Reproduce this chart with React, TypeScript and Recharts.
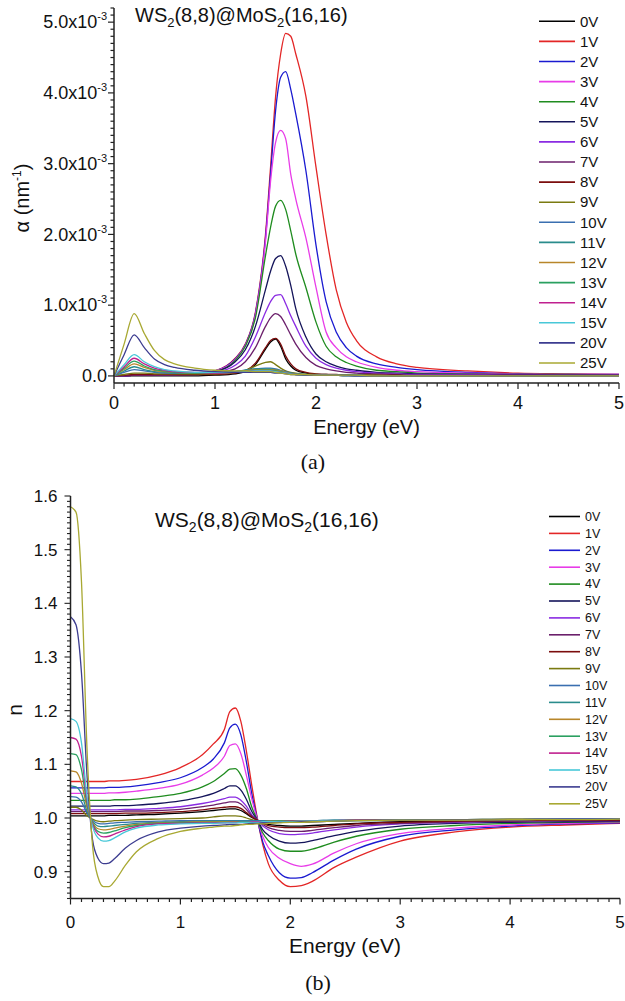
import React from "react";
import { LineChart, Line, XAxis, YAxis } from "recharts";

const voltages = ["0V", "1V", "2V", "3V", "4V", "5V", "6V", "7V", "8V", "9V", "10V", "11V", "12V", "13V", "14V", "15V", "20V", "25V"];
const colors = ["#000000", "#e32626", "#1a1ad0", "#e83ce8", "#1f8c1f", "#14145a", "#8a2be2", "#6b1f6b", "#7b0d0d", "#7a7a10", "#3a6fb0", "#2a8c8c", "#b8862a", "#2aa060", "#c0208f", "#48c8d8", "#3c3c90", "#a8a832"];

// (a) absorption, in units of 1e-3 nm^-1
const energyA = [0, 0.1, 0.2, 0.3, 0.4, 0.5, 0.6, 0.8, 1.0, 1.2, 1.3, 1.4, 1.5, 1.55, 1.6, 1.65, 1.7, 1.75, 1.8, 1.9, 2.0, 2.1, 2.2, 2.3, 2.4, 2.6, 2.8, 3.0, 3.5, 4.0, 4.5, 5.0];
const alpha0V = [0, 0, 0, 0, 0, 0, 0, 0, 0.01, 0.03, 0.06, 0.16, 0.38, 0.48, 0.52, 0.42, 0.24, 0.14, 0.08, 0.04, 0.02, 0.02, 0.01, 0.01, 0.01, 0.01, 0, 0, 0, 0, 0, 0];
const alpha1V = [0, 0, 0.01, 0.01, 0.01, 0.01, 0.02, 0.03, 0.07, 0.25, 0.45, 0.9, 2.0, 2.95, 3.95, 4.55, 4.84, 4.8, 4.55, 3.95, 2.95, 2.0, 1.22, 0.76, 0.5, 0.27, 0.17, 0.12, 0.07, 0.04, 0.03, 0.02];
const alpha2V = [0, 0, 0.01, 0.01, 0.01, 0.01, 0.02, 0.03, 0.07, 0.24, 0.44, 0.88, 1.95, 2.85, 3.75, 4.22, 4.3, 4.05, 3.7, 2.9, 1.85, 1.05, 0.62, 0.4, 0.28, 0.17, 0.12, 0.09, 0.05, 0.03, 0.02, 0.02];
const alpha3V = [0, 0, 0.01, 0.01, 0.01, 0.01, 0.02, 0.03, 0.07, 0.23, 0.43, 0.86, 1.9, 2.75, 3.3, 3.47, 3.35, 2.85, 2.5, 1.95, 1.25, 0.62, 0.4, 0.27, 0.2, 0.12, 0.08, 0.06, 0.04, 0.03, 0.02, 0.02];
const alpha4V = [0, 0, 0.01, 0.01, 0.01, 0.01, 0.02, 0.03, 0.06, 0.22, 0.42, 0.82, 1.7, 2.1, 2.4, 2.48, 2.35, 2.05, 1.72, 1.25, 0.76, 0.42, 0.27, 0.19, 0.14, 0.08, 0.06, 0.04, 0.03, 0.02, 0.02, 0.01];
const alpha5V = [0, 0, 0.01, 0.01, 0.01, 0.01, 0.02, 0.03, 0.06, 0.2, 0.37, 0.7, 1.22, 1.48, 1.66, 1.7, 1.55, 1.28, 0.95, 0.55, 0.31, 0.2, 0.14, 0.1, 0.08, 0.05, 0.04, 0.03, 0.02, 0.02, 0.01, 0.01];
const alpha6V = [0, 0, 0.01, 0.01, 0.01, 0.01, 0.02, 0.03, 0.05, 0.15, 0.28, 0.55, 0.9, 1.05, 1.14, 1.15, 1.02, 0.85, 0.7, 0.42, 0.25, 0.16, 0.11, 0.08, 0.06, 0.04, 0.03, 0.02, 0.02, 0.01, 0.01, 0.01];
const alpha7V = [0, 0, 0.01, 0.01, 0.01, 0.01, 0.01, 0.02, 0.04, 0.1, 0.2, 0.4, 0.7, 0.82, 0.88, 0.84, 0.72, 0.58, 0.45, 0.26, 0.15, 0.1, 0.07, 0.05, 0.04, 0.03, 0.02, 0.01, 0.01, 0.01, 0.01, 0.01];
const alpha8V = [0, 0.01, 0.02, 0.02, 0.02, 0.02, 0.02, 0.02, 0.02, 0.04, 0.07, 0.18, 0.4, 0.5, 0.53, 0.45, 0.28, 0.17, 0.1, 0.05, 0.03, 0.02, 0.02, 0.01, 0.01, 0.01, 0.01, 0, 0, 0, 0, 0];
const alpha9V = [0, 0.02, 0.04, 0.04, 0.03, 0.03, 0.03, 0.03, 0.03, 0.05, 0.08, 0.14, 0.19, 0.2, 0.16, 0.11, 0.07, 0.05, 0.04, 0.02, 0.02, 0.01, 0.01, 0.01, 0.01, 0.01, 0, 0, 0, 0, 0, 0];
const alpha10V = [0, 0.05, 0.09, 0.07, 0.05, 0.04, 0.04, 0.04, 0.04, 0.06, 0.08, 0.1, 0.11, 0.11, 0.1, 0.08, 0.06, 0.04, 0.03, 0.02, 0.01, 0.01, 0.01, 0.01, 0.01, 0, 0, 0, 0, 0, 0, 0];
const alpha11V = [0, 0.07, 0.13, 0.09, 0.06, 0.05, 0.04, 0.04, 0.04, 0.06, 0.08, 0.1, 0.1, 0.1, 0.09, 0.07, 0.05, 0.04, 0.03, 0.02, 0.01, 0.01, 0.01, 0.01, 0.01, 0, 0, 0, 0, 0, 0, 0];
const alpha12V = [0, 0.09, 0.17, 0.12, 0.08, 0.06, 0.05, 0.04, 0.04, 0.05, 0.07, 0.09, 0.09, 0.09, 0.08, 0.07, 0.05, 0.03, 0.02, 0.01, 0.01, 0.01, 0.01, 0, 0, 0, 0, 0, 0, 0, 0, 0];
const alpha13V = [0, 0.11, 0.21, 0.14, 0.09, 0.07, 0.05, 0.04, 0.04, 0.05, 0.06, 0.08, 0.08, 0.08, 0.07, 0.06, 0.04, 0.03, 0.02, 0.01, 0.01, 0.01, 0.01, 0, 0, 0, 0, 0, 0, 0, 0, 0];
const alpha14V = [0, 0.13, 0.25, 0.17, 0.11, 0.08, 0.06, 0.05, 0.04, 0.05, 0.06, 0.07, 0.07, 0.07, 0.06, 0.05, 0.04, 0.03, 0.02, 0.01, 0.01, 0.01, 0.01, 0, 0, 0, 0, 0, 0, 0, 0, 0];
const alpha15V = [0, 0.16, 0.3, 0.2, 0.13, 0.09, 0.07, 0.05, 0.05, 0.05, 0.06, 0.07, 0.07, 0.07, 0.06, 0.05, 0.04, 0.03, 0.02, 0.01, 0.01, 0.01, 0.01, 0, 0, 0, 0, 0, 0, 0, 0, 0];
const alpha20V = [0, 0.3, 0.58, 0.4, 0.24, 0.16, 0.12, 0.08, 0.06, 0.05, 0.05, 0.05, 0.05, 0.05, 0.04, 0.04, 0.03, 0.02, 0.02, 0.01, 0.01, 0.01, 0.01, 0.01, 0, 0, 0, 0, 0, 0, 0, 0];
const alpha25V = [0, 0.45, 0.88, 0.6, 0.36, 0.23, 0.17, 0.11, 0.08, 0.07, 0.07, 0.06, 0.06, 0.06, 0.05, 0.04, 0.03, 0.02, 0.02, 0.02, 0.01, 0.01, 0.01, 0.01, 0.01, 0, 0, 0, 0, 0, 0, 0];
const alphaSeries = [alpha0V, alpha1V, alpha2V, alpha3V, alpha4V, alpha5V, alpha6V, alpha7V, alpha8V, alpha9V, alpha10V, alpha11V, alpha12V, alpha13V, alpha14V, alpha15V, alpha20V, alpha25V];

// (b) refractive index
const energyB = [0, 0.05, 0.1, 0.15, 0.2, 0.25, 0.3, 0.35, 0.4, 0.5, 0.6, 0.8, 1.0, 1.2, 1.3, 1.4, 1.45, 1.5, 1.55, 1.6, 1.65, 1.7, 1.75, 1.8, 1.9, 2.0, 2.1, 2.2, 2.4, 2.6, 3.0, 3.5, 4.0, 4.5, 5.0];
const n0V = [1.004, 1.004, 1.004, 1.004, 1.004, 1.004, 1.004, 1.005, 1.005, 1.005, 1.006, 1.007, 1.009, 1.012, 1.014, 1.016, 1.017, 1.017, 1.014, 1.008, 1.001, 0.996, 0.991, 0.988, 0.986, 0.985, 0.985, 0.986, 0.988, 0.99, 0.993, 0.994, 0.995, 0.996, 0.996];
const n1V = [1.068, 1.068, 1.068, 1.068, 1.068, 1.068, 1.068, 1.069, 1.069, 1.07, 1.072, 1.08, 1.094, 1.118, 1.138, 1.165, 1.198, 1.205, 1.18, 1.125, 1.06, 1.0, 0.95, 0.915, 0.884, 0.872, 0.874, 0.882, 0.908, 0.927, 0.957, 0.974, 0.983, 0.987, 0.99];
const n2V = [1.056, 1.056, 1.056, 1.056, 1.056, 1.056, 1.056, 1.057, 1.057, 1.058, 1.06, 1.066, 1.075, 1.094, 1.11, 1.14, 1.168, 1.175, 1.155, 1.105, 1.045, 0.998, 0.955, 0.93, 0.898, 0.888, 0.889, 0.898, 0.922, 0.942, 0.966, 0.978, 0.985, 0.989, 0.991];
const n3V = [1.046, 1.046, 1.046, 1.046, 1.046, 1.046, 1.046, 1.047, 1.047, 1.048, 1.05, 1.055, 1.063, 1.08, 1.093, 1.115, 1.135, 1.138, 1.12, 1.08, 1.035, 0.998, 0.965, 0.945, 0.925, 0.915, 0.91, 0.914, 0.935, 0.952, 0.971, 0.981, 0.987, 0.99, 0.992];
const n4V = [1.033, 1.033, 1.033, 1.033, 1.033, 1.033, 1.033, 1.033, 1.034, 1.034, 1.035, 1.04, 1.046, 1.058, 1.068, 1.083, 1.091, 1.092, 1.08, 1.055, 1.02, 0.996, 0.972, 0.958, 0.942, 0.938, 0.938, 0.942, 0.955, 0.966, 0.979, 0.986, 0.99, 0.992, 0.993];
const n5V = [1.022, 1.022, 1.022, 1.022, 1.022, 1.022, 1.022, 1.022, 1.023, 1.023, 1.024, 1.027, 1.032, 1.04, 1.046, 1.055, 1.06, 1.06, 1.052, 1.035, 1.012, 0.996, 0.978, 0.968, 0.957, 0.953, 0.954, 0.958, 0.967, 0.975, 0.985, 0.99, 0.992, 0.993, 0.994];
const n6V = [1.015, 1.015, 1.015, 1.015, 1.015, 1.015, 1.015, 1.015, 1.015, 1.016, 1.016, 1.018, 1.021, 1.027, 1.031, 1.036, 1.039, 1.039, 1.033, 1.022, 1.006, 0.996, 0.985, 0.978, 0.971, 0.969, 0.97, 0.972, 0.978, 0.983, 0.989, 0.992, 0.994, 0.995, 0.995];
const n7V = [1.012, 1.012, 1.012, 1.012, 1.012, 1.012, 1.012, 1.012, 1.012, 1.013, 1.013, 1.014, 1.016, 1.021, 1.024, 1.028, 1.03, 1.03, 1.026, 1.016, 1.004, 0.996, 0.988, 0.982, 0.977, 0.975, 0.975, 0.977, 0.982, 0.986, 0.99, 0.993, 0.994, 0.995, 0.995];
const n8V = [1.008, 1.008, 1.008, 1.008, 1.008, 1.008, 1.008, 1.008, 1.008, 1.009, 1.009, 1.01, 1.012, 1.015, 1.018, 1.02, 1.021, 1.021, 1.018, 1.01, 1.002, 0.996, 0.99, 0.986, 0.983, 0.982, 0.982, 0.983, 0.986, 0.989, 0.992, 0.994, 0.995, 0.996, 0.996];
const n9V = [1.02, 1.02, 1.015, 1.004, 0.998, 0.994, 0.993, 0.994, 0.995, 0.996, 0.997, 0.998, 0.999, 1.0, 1.002, 1.004, 1.004, 1.004, 1.003, 1.0, 0.997, 0.994, 0.993, 0.992, 0.992, 0.992, 0.992, 0.993, 0.994, 0.995, 0.996, 0.997, 0.997, 0.998, 0.998];
const n10V = [1.04, 1.039, 1.03, 1.009, 0.996, 0.99, 0.989, 0.99, 0.991, 0.992, 0.993, 0.994, 0.995, 0.995, 0.995, 0.995, 0.995, 0.995, 0.995, 0.995, 0.995, 0.995, 0.995, 0.995, 0.995, 0.995, 0.995, 0.995, 0.996, 0.996, 0.997, 0.997, 0.998, 0.998, 0.998];
const n11V = [1.06, 1.058, 1.045, 1.013, 0.994, 0.985, 0.984, 0.985, 0.986, 0.988, 0.99, 0.992, 0.993, 0.994, 0.994, 0.994, 0.994, 0.994, 0.994, 0.994, 0.994, 0.994, 0.994, 0.994, 0.995, 0.995, 0.995, 0.995, 0.996, 0.996, 0.997, 0.997, 0.998, 0.998, 0.998];
const n12V = [1.088, 1.086, 1.065, 1.02, 0.992, 0.98, 0.978, 0.979, 0.981, 0.985, 0.988, 0.991, 0.992, 0.993, 0.993, 0.993, 0.993, 0.993, 0.993, 0.993, 0.993, 0.993, 0.993, 0.994, 0.994, 0.994, 0.995, 0.995, 0.995, 0.996, 0.997, 0.997, 0.998, 0.998, 0.998];
const n13V = [1.12, 1.118, 1.09, 1.026, 0.99, 0.975, 0.972, 0.973, 0.976, 0.982, 0.986, 0.99, 0.991, 0.992, 0.992, 0.992, 0.992, 0.992, 0.993, 0.993, 0.993, 0.993, 0.993, 0.993, 0.994, 0.994, 0.994, 0.995, 0.995, 0.996, 0.997, 0.997, 0.997, 0.998, 0.998];
const n14V = [1.15, 1.147, 1.115, 1.033, 0.988, 0.97, 0.965, 0.966, 0.97, 0.978, 0.984, 0.989, 0.99, 0.991, 0.991, 0.991, 0.992, 0.992, 0.992, 0.992, 0.993, 0.993, 0.993, 0.993, 0.993, 0.994, 0.994, 0.994, 0.995, 0.996, 0.996, 0.997, 0.997, 0.998, 0.998];
const n15V = [1.185, 1.18, 1.14, 1.04, 0.985, 0.963, 0.957, 0.958, 0.963, 0.974, 0.981, 0.987, 0.989, 0.99, 0.99, 0.991, 0.991, 0.991, 0.992, 0.992, 0.992, 0.992, 0.993, 0.993, 0.993, 0.993, 0.994, 0.994, 0.995, 0.995, 0.996, 0.997, 0.997, 0.998, 0.998];
const n20V = [1.375, 1.36, 1.27, 1.08, 0.96, 0.925, 0.915, 0.916, 0.924, 0.944, 0.958, 0.974, 0.981, 0.985, 0.986, 0.987, 0.988, 0.988, 0.988, 0.989, 0.99, 0.99, 0.991, 0.991, 0.992, 0.992, 0.993, 0.993, 0.994, 0.995, 0.996, 0.997, 0.997, 0.998, 0.998];
const n25V = [1.58, 1.57, 1.44, 1.13, 0.95, 0.89, 0.872, 0.872, 0.882, 0.912, 0.937, 0.962, 0.975, 0.981, 0.983, 0.985, 0.985, 0.986, 0.987, 0.988, 0.988, 0.989, 0.989, 0.99, 0.991, 0.992, 0.992, 0.993, 0.994, 0.995, 0.996, 0.996, 0.997, 0.997, 0.998];
const nSeries = [n0V, n1V, n2V, n3V, n4V, n5V, n6V, n7V, n8V, n9V, n10V, n11V, n12V, n13V, n14V, n15V, n20V, n25V];

// axis ticks (every minor position; majors get labels)
const energyTicks = Array.from({ length: 51 }, (_, i) => i / 10);
const alphaTicks = Array.from({ length: 53 }, (_, i) => i / 10);
const nTicks = Array.from({ length: 76 }, (_, i) => (85 + i) / 100);

const SANS = "'Liberation Sans', Arial, sans-serif";
const SERIF = "'Liberation Serif', 'Times New Roman', serif";

const rowsA = energyA.map((e, i) => {
  const row: Record<string, number> = { e };
  voltages.forEach((v, k) => (row[v] = alphaSeries[k][i]));
  return row;
});
const rowsB = energyB.map((e, i) => {
  const row: Record<string, number> = { e };
  voltages.forEach((v, k) => (row[v] = nSeries[k][i]));
  return row;
});

const isWhole = (v: number, step: number) => Math.abs(v / step - Math.round(v / step)) < 1e-6;

function BottomTick(props: any) {
  const { x, y, payload, size, dy } = props;
  const v = payload.value;
  const major = isWhole(v, 1);
  return (
    <g>
      <line x1={x} x2={x} y1={y} y2={y + (major ? 6 : 3.5)} stroke="#222" strokeWidth={1.2} />
      {major && (
        <text x={x} y={y + dy} textAnchor="middle" fontSize={size} fontFamily={SANS} fill="#111">
          {Math.round(v)}
        </text>
      )}
    </g>
  );
}

function AlphaTick(props: any) {
  const { x, y, payload } = props;
  const v = payload.value;
  const major = isWhole(v, 1);
  return (
    <g>
      <line x1={x} x2={x - (major ? 6 : 3.5)} y1={y} y2={y} stroke="#222" strokeWidth={1.2} />
      {major && (
        <text x={x - 7} y={y} dy="0.35em" textAnchor="end" fontSize={18} fontFamily={SANS} fill="#111">
          {v === 0 ? "0.0" : `${v.toFixed(1)}x10`}
          {v !== 0 && (
            <tspan dy={-8} fontSize={11}>
              -3
            </tspan>
          )}
        </text>
      )}
    </g>
  );
}

function NTick(props: any) {
  const { x, y, payload } = props;
  const v = payload.value;
  const major = isWhole(v, 0.1);
  return (
    <g>
      <line x1={x} x2={x - (major ? 6 : 3.5)} y1={y} y2={y} stroke="#222" strokeWidth={1.1} />
      {major && (
        <text x={x - 13} y={y} dy="0.35em" textAnchor="end" fontSize={17} fontFamily={SANS} fill="#111">
          {v.toFixed(1)}
        </text>
      )}
    </g>
  );
}

function Formula({ x, y, size }: { x: number; y: number; size: number }) {
  const sub = Math.round(size * 0.65);
  return (
    <text x={x} y={y} fontSize={size} fontFamily={SANS} fill="#111">
      WS<tspan dy={5} fontSize={sub}>2</tspan>
      <tspan dy={-5}>(8,8)@MoS</tspan>
      <tspan dy={5} fontSize={sub}>2</tspan>
      <tspan dy={-5}>(16,16)</tspan>
    </text>
  );
}

function LegendBlock({ top, step, x1, x2, size }: { top: number; step: number; x1: number; x2: number; size: number }) {
  return (
    <g>
      {voltages.map((v, k) => (
        <g key={v}>
          <line x1={x1} x2={x2} y1={top + k * step} y2={top + k * step} stroke={colors[k]} strokeWidth={1.6} />
          <text x={x2 + 5} y={top + k * step} dy="0.35em" fontSize={size} fontFamily={SANS} fill="#111">
            {v}
          </text>
        </g>
      ))}
    </g>
  );
}

export default function App() {
  return (
    <div style={{ position: "absolute", left: 0, top: 0, width: 625, height: 1001, background: "#fff" }}>
      <div style={{ position: "absolute", left: 0, top: 0 }}>
        {/* plot area: x 114..619, y 8..383 */}
        <LineChart width={625} height={440} data={rowsA} margin={{ top: 8, right: 6, bottom: 27, left: 54 }}>
          <XAxis
            dataKey="e"
            type="number"
            domain={[0, 5]}
            ticks={energyTicks}
            interval={0}
            height={30}
            tickSize={0}
            tickMargin={0}
            tickLine={false}
            axisLine={{ stroke: "#222", strokeWidth: 1.5 }}
            tick={(p: any) => <BottomTick {...p} size={18} dy={26} />}
          />
          <YAxis
            type="number"
            domain={[-0.1, 5.2]}
            ticks={alphaTicks}
            interval={0}
            width={60}
            tickSize={0}
            tickMargin={0}
            tickLine={false}
            axisLine={{ stroke: "#222", strokeWidth: 1.5 }}
            tick={(p: any) => <AlphaTick {...p} />}
          />
          {voltages.map((v, k) => (
            <Line key={v} type="monotone" dataKey={v} stroke={colors[k]} strokeWidth={1.3} dot={false} isAnimationActive={false} />
          ))}
        </LineChart>
      </div>
      <div style={{ position: "absolute", left: 0, top: 480 }}>
        {/* plot area: x 70.5..620, y 496..898.5 */}
        <LineChart width={625} height={460} data={rowsB} margin={{ top: 16, right: 5, bottom: 21.5, left: 10.5 }}>
          <XAxis
            dataKey="e"
            type="number"
            domain={[0, 5]}
            ticks={energyTicks}
            interval={0}
            height={20}
            tickSize={0}
            tickMargin={0}
            tickLine={false}
            axisLine={{ stroke: "#222", strokeWidth: 1.5 }}
            tick={(p: any) => <BottomTick {...p} size={17} dy={29} />}
          />
          <YAxis
            type="number"
            domain={[0.85, 1.6]}
            ticks={nTicks}
            interval={0}
            width={60}
            tickSize={0}
            tickMargin={0}
            tickLine={false}
            axisLine={{ stroke: "#222", strokeWidth: 1.5 }}
            tick={(p: any) => <NTick {...p} />}
          />
          {voltages.map((v, k) => (
            <Line key={v} type="monotone" dataKey={v} stroke={colors[k]} strokeWidth={1.3} dot={false} isAnimationActive={false} />
          ))}
        </LineChart>
      </div>
      <svg width={625} height={1001} style={{ position: "absolute", left: 0, top: 0, pointerEvents: "none" }}>
        {/* panel (a) texts */}
        <Formula x={135} y={22} size={20} />
        <LegendBlock top={21.3} step={20.1} x1={539} x2={575} size={15} />
        <text transform="translate(22,198) rotate(-90)" textAnchor="middle" dy="0.35em" fontSize={20} fontFamily={SANS} fill="#111">
          α (nm<tspan dy={-8} fontSize={12}>-1</tspan>
          <tspan dy={8}>)</tspan>
        </text>
        <text x={366.5} y={434} textAnchor="middle" fontSize={20} fontFamily={SANS} fill="#111">
          Energy (eV)
        </text>
        <text x={313} y={469} textAnchor="middle" fontSize={22} fontFamily={SERIF} fill="#111">
          (a)
        </text>
        {/* panel (b) texts */}
        <Formula x={155} y={527} size={21} />
        <LegendBlock top={516.5} step={16.9} x1={549} x2={580} size={12.5} />
        <text transform="translate(15,710) rotate(-90)" textAnchor="middle" dy="0.35em" fontSize={21} fontFamily={SANS} fill="#111">
          n
        </text>
        <text x={345} y={953} textAnchor="middle" fontSize={21} fontFamily={SANS} fill="#111">
          Energy (eV)
        </text>
        <text x={318} y={990} textAnchor="middle" fontSize={22} fontFamily={SERIF} fill="#111">
          (b)
        </text>
      </svg>
    </div>
  );
}
